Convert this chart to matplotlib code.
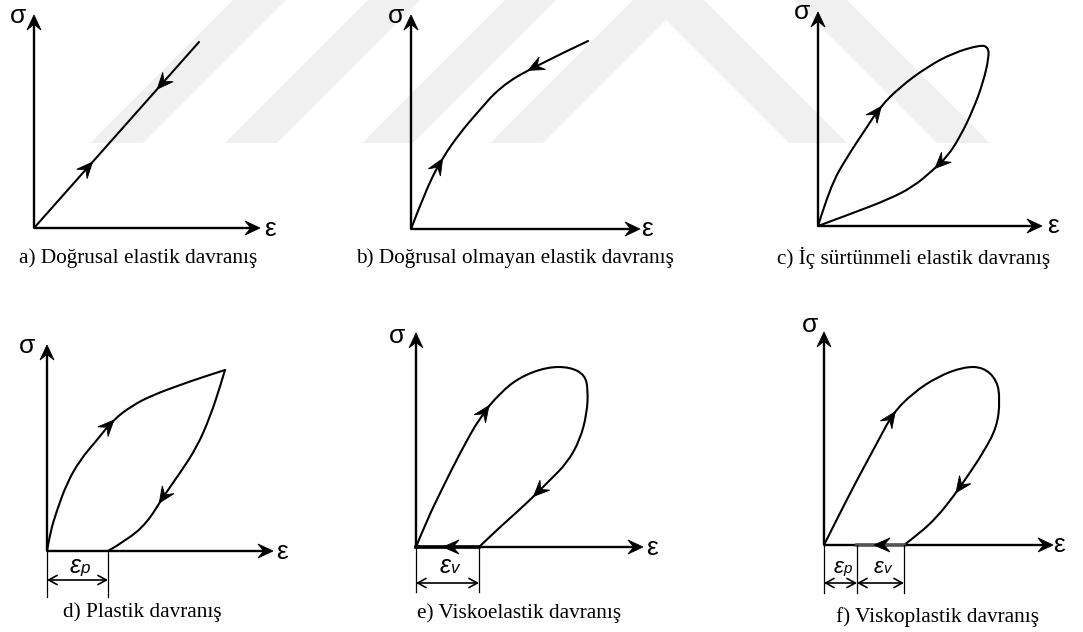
import numpy as np
import matplotlib
matplotlib.use('Agg')
import matplotlib.pyplot as plt
from matplotlib.path import Path
from matplotlib.patches import PathPatch, Polygon, FancyArrowPatch
from matplotlib.transforms import Affine2D

# ---------------- data (strain / stress shapes, local units) ----------------
captions = ["a) Doğrusal elastik davranış",
            "b) Doğrusal olmayan elastik davranış",
            "c) İç sürtünmeli elastik davranış",
            "d) Plastik davranış",
            "e) Viskoelastik davranış",
            "f) Viskoplastik davranış"]

a_strain = [0, 165]
a_stress = [0, 186]

b_strain = [0, 16, 32, 49, 66, 89, 122, 177]
b_stress = [0, 42, 72, 96, 116, 142, 162, 188]

c_strain = [0, 12, 29, 49, 62, 82, 109, 135, 162, 170, 171, 165, 155, 142, 129, 115, 95, 69, 35, 0]
c_stress = [0, 39, 69, 99, 119, 139, 159, 173, 181, 179, 169, 143, 116, 89, 69, 56, 39, 26, 13, 0]

d_load_strain = [0, 3, 10, 20, 33, 50, 66, 86, 106, 133, 156, 178]
d_load_stress = [0, 18, 41, 68, 91, 111, 131, 146, 156, 166, 174, 181]
d_unload_strain = [178, 173, 163, 150, 133, 116, 100, 80, 61]
d_unload_stress = [181, 164, 134, 104, 78, 54, 28, 11, 0]

e_strain = [0, 11, 27, 44, 64, 84, 104, 131, 154, 169, 172, 171, 164, 151, 134, 111, 84, 63]
e_stress = [0, 27, 60, 94, 130, 154, 170, 180, 180, 172, 157, 134, 107, 84, 67, 44, 20, 0]
e_return_strain = [63, 0]

f_strain = [0, 16, 33, 53, 69, 89, 113, 139, 159, 173, 176, 173, 159, 143, 129, 113, 96, 80]
f_stress = [0, 32, 65, 102, 132, 152, 168, 178, 178, 165, 145, 118, 92, 68, 48, 28, 12, 0]
f_return_strain = [80, 33]

d_eps_p = 61
e_eps_v = 63
f_eps_p = 33
f_eps_v = 80

# watermark bands (figure pixels)
wm_bands = [
    [(90, 143), (143, 143), (286, 0), (233, 0)],
    [(225, 143), (277, 143), (420, 0), (368, 0)],
    [(362, 143), (413, 143), (556, 0), (505, 0)],
    [(490, 143), (543, 143), (666, 20), (789, 143), (847, 143), (704, 0), (633, 0)],
    [(937, 143), (990, 143), (847, 0), (794, 0)],
]

# ---------------- layout ----------------
W, H = 1083, 632
fig = plt.figure(figsize=(W / 100, H / 100), dpi=100)
ax = fig.add_axes([0, 0, 1, 1])
ax.set_xlim(0, W)
ax.set_ylim(H, 0)
ax.axis('off')

for band in wm_bands:
    ax.add_patch(Polygon(band, closed=True, fc='#f0f0f0', ec='none', zorder=0))

origins = [(34, 228), (411, 229), (818, 226), (47, 551), (416, 547), (824, 545)]
axis_len = [(226, 213), (229, 214), (224, 214), (226, 206), (227, 214), (229, 213)]
sig_pos = [(18, 16), (396, 16), (802, 12), (27, 346), (397, 336), (810, 325)]
eps_pos = [(270, 229), (647, 229), (1053, 226), (282, 552), (652, 548), (1059, 545)]
cap_pos = [(138, 258), (515, 258), (914, 258), (142, 612), (519, 613), (938, 617)]

CURVE_LW = 1.5
AX_LW = 1.7


def local_tr(o):
    return Affine2D().scale(1, -1).translate(o[0], o[1]) + ax.transData


def head(tr, tip, ang, L=16, Wd=14, notch=0.62):
    c, s = np.cos(ang), np.sin(ang)
    pts = np.array([[0, 0], [-L, Wd / 2], [-notch * L, 0], [-L, -Wd / 2]])
    R = np.array([[c, -s], [s, c]])
    p = pts @ R.T + np.asarray(tip, float)
    ax.add_patch(Polygon(p, closed=True, transform=tr, fc='k', ec='k', lw=0.6,
                         joinstyle='miter', zorder=4))


def smooth_path(xs, ys):
    P = np.column_stack([xs, ys]).astype(float)
    if len(P) == 2:
        return Path(P, [Path.MOVETO, Path.LINETO])
    verts = [P[0]]
    codes = [Path.MOVETO]
    n = len(P) - 1
    for i in range(1, n):
        end = P[n] if i == n - 1 else (P[i] + P[i + 1]) / 2
        verts += [P[i], end]
        codes += [Path.CURVE3, Path.CURVE3]
    return Path(np.array(verts), codes)


def draw_curve(tr, xs, ys, arrows, lw=CURVE_LW):
    path = smooth_path(xs, ys)
    ax.add_patch(PathPatch(path, fc='none', ec='k', lw=lw, transform=tr, zorder=3,
                           capstyle='round', joinstyle='round'))
    poly = path.to_polygons(closed_only=False)[0]
    if len(poly) < 8:
        t = np.linspace(0, 1, 50)[:, None]
        poly = poly[0] + t * (poly[-1] - poly[0])
    for (px, py, d) in arrows:
        dist = np.hypot(poly[:, 0] - px, poly[:, 1] - py)
        i = int(np.argmin(dist))
        i0, i1 = max(i - 2, 0), min(i + 2, len(poly) - 1)
        v = poly[i1] - poly[i0]
        ang = np.arctan2(v[1], v[0]) + (0 if d > 0 else np.pi)
        u = np.array([np.cos(ang), np.sin(ang)])
        head(tr, poly[i] + 7 * u, ang)


def draw_axes(k):
    o = origins[k]
    tr = local_tr(o)
    lx, ly = axis_len[k]
    L = 15
    ax.plot([0, lx - 0.6 * L], [0, 0], color='k', lw=AX_LW, transform=tr, zorder=3,
            solid_capstyle='butt')
    ax.plot([0, 0], [0, ly - 0.6 * L], color='k', lw=AX_LW, transform=tr, zorder=3,
            solid_capstyle='butt')
    head(tr, (lx, 0), 0, L=L, Wd=14)
    head(tr, (0, ly), np.pi / 2, L=L, Wd=14)
    ax.text(*sig_pos[k], 'σ', family='Liberation Sans', fontsize=19, ha='center', va='center')
    ax.text(*eps_pos[k], 'ε', family='Liberation Sans', fontsize=19, ha='center', va='center')
    ax.text(*cap_pos[k], captions[k], family='Liberation Serif', fontsize=15.3,
            ha='center', va='center')
    return tr


def dim(tr, xs, depth, yarrow, labels, ylab, size=18):
    for x in xs:
        ax.plot([x, x], [0, -depth], color='k', lw=0.9, transform=tr, zorder=3)
    for j in range(len(xs) - 1):
        ax.add_patch(FancyArrowPatch((xs[j], -yarrow), (xs[j + 1], -yarrow), transform=tr,
                                     arrowstyle='<->,head_length=0.6,head_width=0.33',
                                     mutation_scale=10, lw=1.2, color='k',
                                     shrinkA=0, shrinkB=0, zorder=3))
        cx = (xs[j] + xs[j + 1]) / 2
        base, sub = labels[j]
        pt = tr.transform((cx, -ylab))
        xd, yd = ax.transData.inverted().transform(pt)
        ax.text(xd + 3, yd + 5, base, family='Liberation Sans', style='italic', fontsize=size,
                ha='right', va='baseline')
        ax.text(xd + 3, yd + 5, sub, family='Liberation Sans', style='italic',
                fontsize=size * 0.68, ha='left', va='baseline')


# a
tr = draw_axes(0)
draw_curve(tr, a_strain, a_stress, [(56, 61, 1), (129, 145, -1)])
# b
tr = draw_axes(1)
draw_curve(tr, b_strain, b_stress, [(31, 71, 1), (126, 164, -1)])
# c
tr = draw_axes(2)
draw_curve(tr, c_strain, c_stress, [(59, 116, 1), (119, 63, 1)])
# d
tr = draw_axes(3)
draw_curve(tr, d_load_strain, d_load_stress, [(61, 128, 1)])
draw_curve(tr, d_unload_strain, d_unload_stress, [(120, 56, 1)])
dim(tr, [0, d_eps_p], 46, 29, [('ε', 'p')], 17)
# e
tr = draw_axes(4)
draw_curve(tr, e_strain, e_stress, [(66, 130, 1), (127, 62, 1)])
ax.plot(e_return_strain, [0, 0], color='k', lw=2.6, transform=tr, zorder=3)
head(tr, (27, 0), np.pi)
dim(tr, [0, e_eps_v], 45, 36, [('ε', 'v')], 21)
# f
tr = draw_axes(5)
draw_curve(tr, f_strain, f_stress, [(66, 128, 1), (136, 65, 1)])
ax.plot(f_return_strain, [0, 0], color='#555555', lw=2.6, transform=tr, zorder=3)
head(tr, (50, 0), np.pi)
dim(tr, [0, f_eps_p, f_eps_v], 48, 38, [('ε', 'p'), ('ε', 'v')], 23, size=16)

fig.savefig('out.png', dpi=100)
